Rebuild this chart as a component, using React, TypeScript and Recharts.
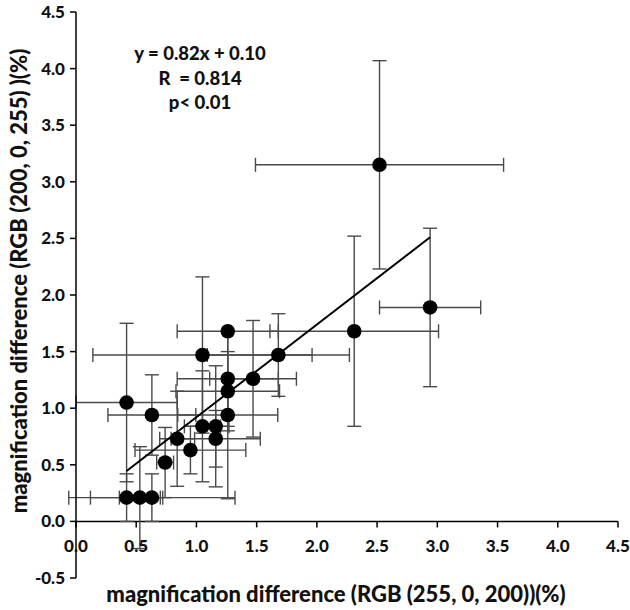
import React from 'react';
import { ScatterChart, Scatter, XAxis, YAxis, ErrorBar, ReferenceLine, Customized } from 'recharts';

const xValues = [0.42, 0.53, 0.63, 0.42, 0.63, 0.74, 0.84, 0.95, 1.05, 1.05, 1.16, 1.16, 1.26, 1.26, 1.26, 1.26, 1.47, 1.68, 2.31, 2.94, 2.52];
const yValues = [0.21, 0.21, 0.21, 1.05, 0.94, 0.52, 0.73, 0.63, 1.47, 0.84, 0.84, 0.73, 1.68, 1.26, 1.15, 0.94, 1.26, 1.47, 1.68, 1.89, 3.15];
const xErrors = [0.30, 0.17, 0.69, 0.42, 0.365, 0.07, 0.145, 0.46, 0.91, 0.15, 0.11, 0.37, 0.42, 0.42, 0.43, 0.415, 0.36, 0.59, 0.70, 0.42, 1.03];
const yErrors = [0.21, 0.45, 0.21, 0.70, 0.355, 0.31, 0.42, 0.21, 0.69, 0.49, 0.535, 0.25, 0.0, 0.42, 0.35, 0.74, 0.515, 0.365, 0.84, 0.70, 0.92];

const trendX = [0.42, 2.94];
const trendY = [0.445, 2.51];

const xTicks = [0, 0.5, 1.0, 1.5, 2.0, 2.5, 3.0, 3.5, 4.0, 4.5];
const yTicks = [-0.5, 0, 0.5, 1.0, 1.5, 2.0, 2.5, 3.0, 3.5, 4.0, 4.5];

const statLines = ['y = 0.82x + 0.10', 'R  = 0.814', 'p< 0.01'];
const xTitle = 'magnification difference (RGB (255, 0, 200))(%)';
const yTitle = 'magnification difference (RGB (200, 0, 255) )(%)';

const points = xValues.map((x, i) => ({ x, y: yValues[i], ex: xErrors[i], ey: yErrors[i] }));
const trendData = trendX.map((x, i) => ({ x, y: trendY[i] }));

const W = 630;
const H = 610;
const TOP = 12;
const RIGHT = 12;
const X_AXIS_H = 32;
const Y_AXIS_W = 76;
const PLOT_H = H - TOP - X_AXIS_H;
const Y_MIN = -0.5;
const Y_MAX = 4.5;
const ZERO_OFFSET = (PLOT_H * (0 - Y_MIN)) / (Y_MAX - Y_MIN);
const FONT = 'Lato, "Open Sans", sans-serif';

const XTick = (props: any) => {
  const { x, y, payload } = props;
  const y0 = y - ZERO_OFFSET;
  return (
    <g>
      <line x1={x} x2={x} y1={y0} y2={y0 + 6} stroke="#000" strokeWidth={1.5} />
      <text x={x} y={y0 + 31} textAnchor="middle" fontFamily={FONT} fontWeight={900} fontSize={17} fill="#111">
        {Number(payload.value).toFixed(1)}
      </text>
    </g>
  );
};

const YTick = (props: any) => {
  const { x, y, payload } = props;
  return (
    <text x={x} y={y} dy={6} textAnchor="end" fontFamily={FONT} fontWeight={900} fontSize={17} fill="#111">
      {Number(payload.value).toFixed(1)}
    </text>
  );
};

const Annotations = () => (
  <g fontFamily={FONT} fontWeight={900} fill="#111">
    {statLines.map((s, i) => (
      <text key={i} x={200} y={60 + i * 24.5} textAnchor="middle" fontSize={18.5} style={{ whiteSpace: 'pre' }}>
        {s}
      </text>
    ))}
    <text x={336} y={602} textAnchor="middle" fontSize={22}>
      {xTitle}
    </text>
    <text x={27} y={281} textAnchor="middle" fontSize={22} transform="rotate(-90 27 281)">
      {yTitle}
    </text>
  </g>
);

const Dot = (props: any) => <circle cx={props.cx} cy={props.cy} r={7.3} fill="#000" />;
const NoDot = () => <g />;

export default function App() {
  return (
    <div style={{ position: 'absolute', left: 0, top: 0, width: W, height: H, background: '#fff' }}>
      <ScatterChart width={W} height={H} margin={{ top: TOP, right: RIGHT, bottom: 0, left: 0 }}>
        <XAxis
          type="number"
          dataKey="x"
          domain={[0, 4.5]}
          ticks={xTicks}
          allowDataOverflow
          axisLine={false}
          tickLine={false}
          tickSize={0}
          tickMargin={0}
          tick={<XTick />}
          interval={0}
          height={X_AXIS_H}
        />
        <YAxis
          type="number"
          dataKey="y"
          domain={[Y_MIN, Y_MAX]}
          ticks={yTicks}
          allowDataOverflow
          axisLine={{ stroke: '#000', strokeWidth: 1.5 }}
          tickLine={{ stroke: '#000', strokeWidth: 1.5 }}
          tickSize={6}
          tickMargin={5}
          tick={<YTick />}
          interval={0}
          width={Y_AXIS_W}
        />
        <ReferenceLine y={0} stroke="#000" strokeWidth={1.5} ifOverflow="visible" />
        <Scatter data={points} shape={<Dot />} isAnimationActive={false}>
          <ErrorBar dataKey="ex" direction="x" width={7} stroke="#4a4a4a" strokeWidth={1.4} isAnimationActive={false} />
          <ErrorBar dataKey="ey" direction="y" width={7} stroke="#4a4a4a" strokeWidth={1.4} isAnimationActive={false} />
        </Scatter>
        <Scatter data={trendData} shape={<NoDot />} line={{ stroke: '#000', strokeWidth: 2 }} isAnimationActive={false} />
        <Customized component={Annotations} />
      </ScatterChart>
    </div>
  );
}
